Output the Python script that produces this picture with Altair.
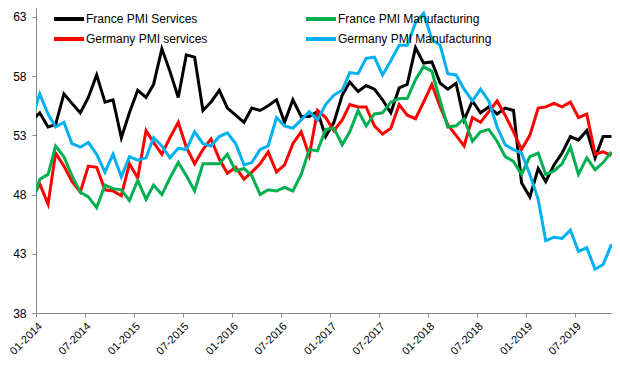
import altair as alt
import pandas as pd

# Monthly values, Dec 2013 (clipped at the axis) through Nov 2019
start_year, start_month = 2013, 12

france_services = [54.2,
    54.9, 53.7, 53.9, 56.5, 55.7, 54.9, 56.2, 58.1, 55.8, 56.0, 52.8, 54.9,
    56.8, 56.2, 57.3, 60.3, 58.4, 56.2, 59.8, 59.6, 55.1, 55.8, 56.8, 55.3,
    54.7, 54.1, 55.3, 55.1, 55.5, 56.0, 54.1, 56.0, 54.6, 54.6, 55.0, 52.9,
    54.1, 56.4, 57.5, 56.7, 57.2, 56.9, 56.0, 54.9, 57.0, 57.3, 60.4, 59.1,
    59.2, 57.4, 56.9, 57.4, 54.3, 55.9, 54.9, 55.4, 54.8, 55.3, 55.1, 49.0,
    47.8, 50.2, 49.1, 50.5, 51.5, 52.9, 52.6, 53.4, 51.1, 52.9, 52.9]

germany_services = [47.6,
    48.9, 47.2, 51.5, 50.4, 49.1, 48.2, 50.4, 50.3, 48.4, 48.3, 47.9, 50.6,
    49.4, 53.4, 52.4, 51.4, 52.8, 54.1, 52.0, 50.6, 51.8, 52.7, 51.0, 49.8,
    50.3, 49.3, 49.9, 50.6, 51.6, 49.9, 50.5, 52.3, 53.3, 51.3, 55.1, 54.5,
    53.4, 54.3, 55.6, 55.4, 55.4, 53.8, 53.1, 53.6, 55.6, 54.7, 54.4, 55.8,
    57.3, 55.4, 53.9, 53.0, 52.1, 54.5, 54.1, 55.0, 55.9, 54.7, 53.3, 51.8,
    53.0, 55.3, 55.4, 55.7, 55.4, 55.8, 54.5, 54.8, 51.4, 51.6, 51.3]

france_mfg = [47.0,
    49.3, 49.7, 52.1, 51.2, 49.6, 48.2, 47.8, 46.9, 48.8, 48.5, 48.4, 47.5,
    49.2, 47.6, 48.8, 48.0, 49.4, 50.7, 49.6, 48.3, 50.6, 50.6, 50.6, 51.4,
    50.0, 50.2, 49.6, 48.0, 48.4, 48.3, 48.6, 48.3, 49.7, 51.8, 51.7, 53.5,
    53.6, 52.2, 53.3, 55.1, 53.8, 54.8, 54.9, 55.8, 56.1, 56.1, 57.7, 58.8,
    58.4, 55.9, 53.7, 53.8, 54.4, 52.5, 53.3, 53.5, 52.5, 51.2, 50.8, 49.7,
    51.2, 51.5, 49.7, 50.0, 50.6, 52.0, 49.7, 51.1, 50.1, 50.7, 51.6]

germany_mfg = [54.3,
    56.5, 54.8, 53.7, 54.1, 52.3, 52.0, 52.4, 51.4, 49.9, 51.4, 49.5, 51.2,
    50.9, 51.1, 52.8, 52.1, 51.1, 51.9, 51.8, 53.3, 52.3, 52.1, 52.9, 53.2,
    52.3, 50.5, 50.7, 51.8, 52.1, 54.5, 53.8, 53.6, 54.3, 55.0, 54.3, 55.6,
    56.4, 56.8, 58.3, 58.2, 59.5, 59.6, 58.1, 59.3, 60.6, 60.6, 62.5, 63.3,
    61.1, 60.6, 58.2, 58.1, 56.9, 55.9, 56.9, 55.9, 53.7, 52.2, 51.8, 51.5,
    49.7, 47.6, 44.1, 44.4, 44.3, 45.0, 43.2, 43.5, 41.7, 42.1, 43.8]

# legend (column-major): col 1 = France/Germany services, col 2 = manufacturing
series_names = ["France PMI Services", "Germany PMI services",
                "France PMI Manufacturing", "Germany PMI Manufacturing"]
series_colors = ["#000000", "#FF0000", "#00B050", "#00B0F0"]
series_values = [france_services, germany_services, france_mfg, germany_mfg]
draw_order = [0, 2, 1, 3]

y_ticks = [38, 43, 48, 53, 58, 63]
x_tick_years = [2014, 2015, 2016, 2017, 2018, 2019]

rows = []
for name, vals, od in zip(series_names, series_values, draw_order):
    for i, v in enumerate(vals):
        m = start_month - 1 + i
        y = start_year + m // 12
        mo = m % 12 + 1
        rows.append({"series": name, "date": f"{y:04d}-{mo:02d}-15", "value": v,
                     "order": od})
df = pd.DataFrame(rows)

x_values = []
for yr in x_tick_years:
    for mo in (1, 7):
        x_values.append(alt.DateTime(year=yr, month=mo, date=1, utc=True))

chart = alt.Chart(df).mark_line(strokeWidth=3, clip=True).encode(
    x=alt.X("date:T",
            scale=alt.Scale(type="utc",
                            domain=[alt.DateTime(year=2014, month=1, date=1, utc=True),
                                    alt.DateTime(year=2019, month=11, date=17, utc=True)]),
            axis=alt.Axis(values=x_values,
                          labelExpr="utcFormat(datum.value, '%m-%Y')",
                          labelAngle=315, title=None, grid=False,
                          domainColor="#868686", tickColor="#868686", tickSize=4,
                          labelFont="Liberation Sans", labelFontSize=11,
                          labelColor="#000000", labelPadding=3, labelBound=False)),
    y=alt.Y("value:Q",
            scale=alt.Scale(domain=[38, 63.75], nice=False, zero=False),
            axis=alt.Axis(values=y_ticks, title=None, grid=False,
                          domainColor="#868686", tickColor="#868686", tickSize=4,
                          labelFont="Liberation Sans", labelFontSize=12,
                          labelColor="#000000", labelPadding=6)),
    color=alt.Color("series:N",
                    scale=alt.Scale(domain=series_names, range=series_colors),
                    legend=alt.Legend(title=None, orient="none", legendX=26, legendY=-1,
                                      columns=2, columnPadding=90, rowPadding=0,
                                      symbolType="M-2,0H1", symbolSize=400,
                                      symbolStrokeWidth=4, labelFont="Liberation Sans",
                                      labelFontSize=12, labelColor="#000000",
                                      labelOffset=0, padding=0)),
    order="order:Q",
).properties(
    width=576, height=305,
    autosize=alt.AutoSizeParams(type="none"),
    padding={"left": 28, "top": 0, "right": 0, "bottom": 45},
).configure_view(stroke=None)

chart.save("out.html", embed_options={"renderer": "svg", "actions": False})
